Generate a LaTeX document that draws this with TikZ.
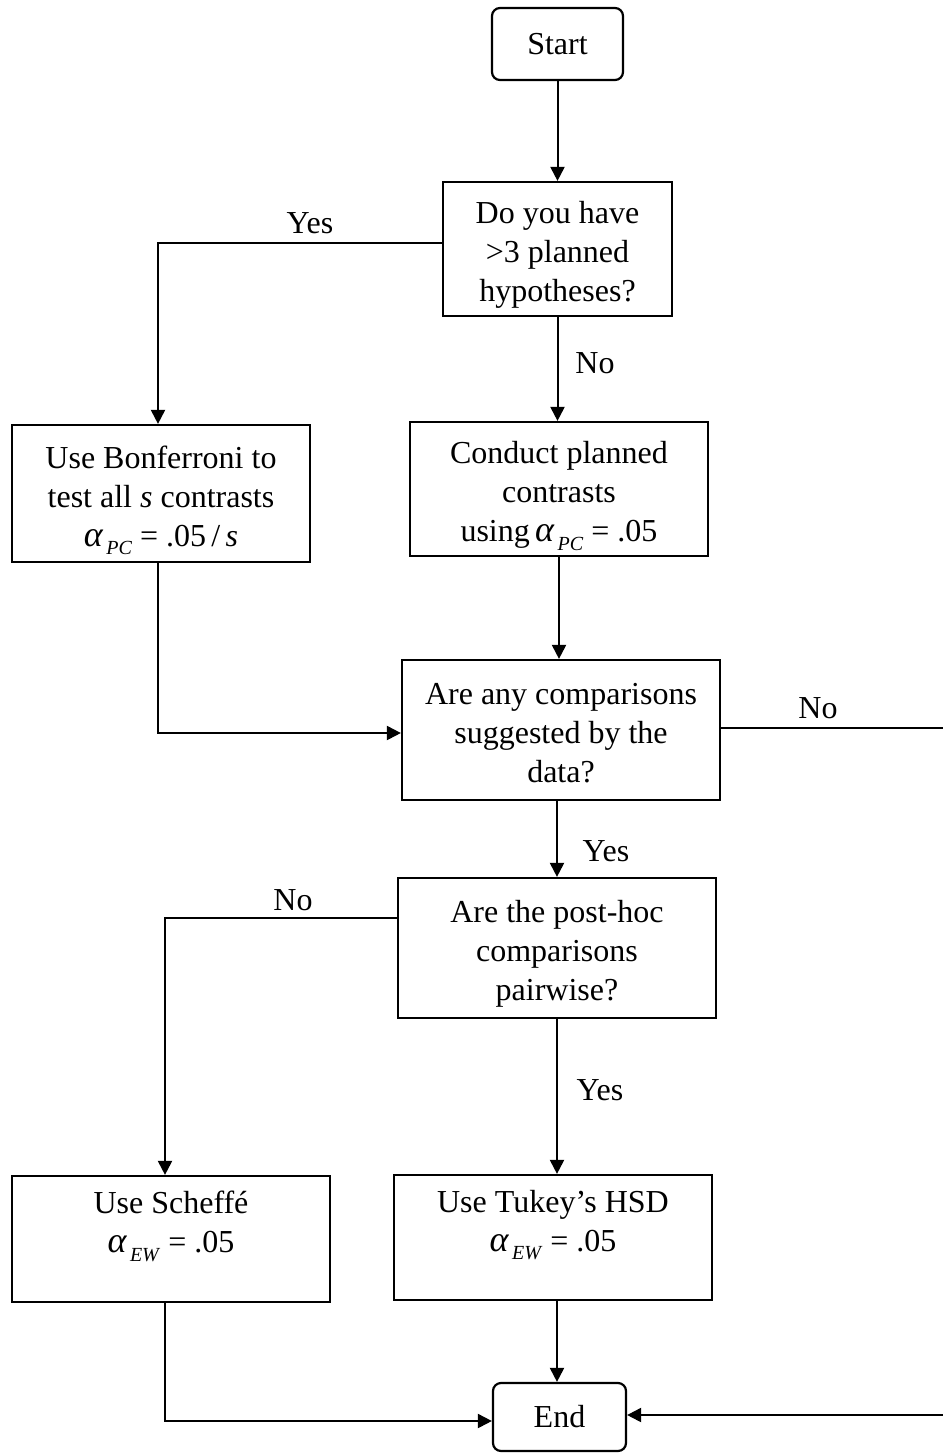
\documentclass[tikz,border=0pt]{standalone}
\usepackage{fontspec}
\setmainfont{Liberation Serif}
\usetikzlibrary{arrows.meta}
\newcommand\alphsub[1]{{\fontsize{18}{18}\selectfont\textit{α}}\kern1.5pt\raisebox{-0.6ex}{\fontsize{10}{10}\selectfont\textit{#1}}}
\begin{document}
\begin{tikzpicture}[x=0.5pt,y=-0.5pt,
  font=\fontsize{16}{19.5}\selectfont,
  box/.style={draw, line width=1.1pt, align=center, inner sep=0pt},
  tbox/.style={box, text height=56.5pt, text depth=4pt},
  term/.style={box, rounded corners=4pt},
  conn/.style={line width=1pt},
  arr/.style={conn, -{Triangle[length=7pt,width=7pt]}},
  lbl/.style={inner sep=0pt}]
\useasboundingbox (0,0) rectangle (943,1453);

\node[term, minimum width=65.5pt, minimum height=36pt] (start) at (557.5,44) {Start};
\node[tbox, minimum width=114.5pt, minimum height=67pt] (q1) at (557.5,249) {Do you have\\>3 planned\\hypotheses?};
\node[tbox, minimum width=149pt, minimum height=68.5pt] (bonf) at (161,493.5) {Use Bonferroni to\\test all \textit{s} contrasts\\\alphsub{PC}\ = .05\,/\,\textit{s}};
\node[tbox, minimum width=149pt, minimum height=67pt] (cond) at (559,489) {Conduct planned\\contrasts\\using\,\alphsub{PC}\ = .05};
\node[tbox, minimum width=159pt, minimum height=70pt] (q2) at (561,730) {Are any comparisons\\suggested by the\\data?};
\node[tbox, minimum width=159pt, minimum height=70pt] (q3) at (557,948) {Are the post-hoc\\comparisons\\pairwise?};
\node[tbox, minimum width=159pt, minimum height=63pt] (sch) at (171,1239) {Use Scheffé\\\alphsub{EW}\ = .05\\\mbox{}};
\node[tbox, minimum width=159pt, minimum height=62.5pt] (tuk) at (553,1237.5) {Use Tukey’s HSD\\\alphsub{EW}\ = .05\\\mbox{}};
\node[term, minimum width=66.5pt, minimum height=34pt] (end) at (559.5,1417) {End};

\node[lbl] (l1) at (310,223) {Yes};
\node[lbl] (l2) at (595,363) {No};
\node[lbl] (l3) at (818,708) {No};
\node[lbl] (l4) at (606,851) {Yes};
\node[lbl] (l5) at (293,900) {No};
\node[lbl] (l6) at (600,1090) {Yes};

\coordinate (k1) at (158,243);
\coordinate (k2) at (158,733);
\coordinate (k3) at (557,0);
\coordinate (k4) at (165,918);
\coordinate (k5) at (165,1421);
\coordinate (r1) at (943,728);
\coordinate (r2) at (943,1415);

\draw[arr] (start.south) -- (q1.north);
\draw[arr] (q1.west |- k1) -| (bonf.north -| k1);
\draw[arr] (q1.south) -- (q1.south |- cond.north);
\draw[arr] (cond.south) -- (cond.south |- q2.north);
\draw[arr] (bonf.south -| k2) |- (q2.west |- k2);
\draw[conn] (q2.east |- r1) -- (r1);
\draw[arr] (q2.south -| k3) -- (q3.north -| k3);
\draw[arr] (q3.west |- k4) -| (sch.north -| k4);
\draw[arr] (q3.south -| k3) -- (tuk.north -| k3);
\draw[arr] (sch.south -| k5) |- (end.west |- k5);
\draw[arr] (tuk.south -| k3) -- (end.north -| k3);
\draw[arr] (r2) -- (end.east |- r2);
\end{tikzpicture}
\end{document}
